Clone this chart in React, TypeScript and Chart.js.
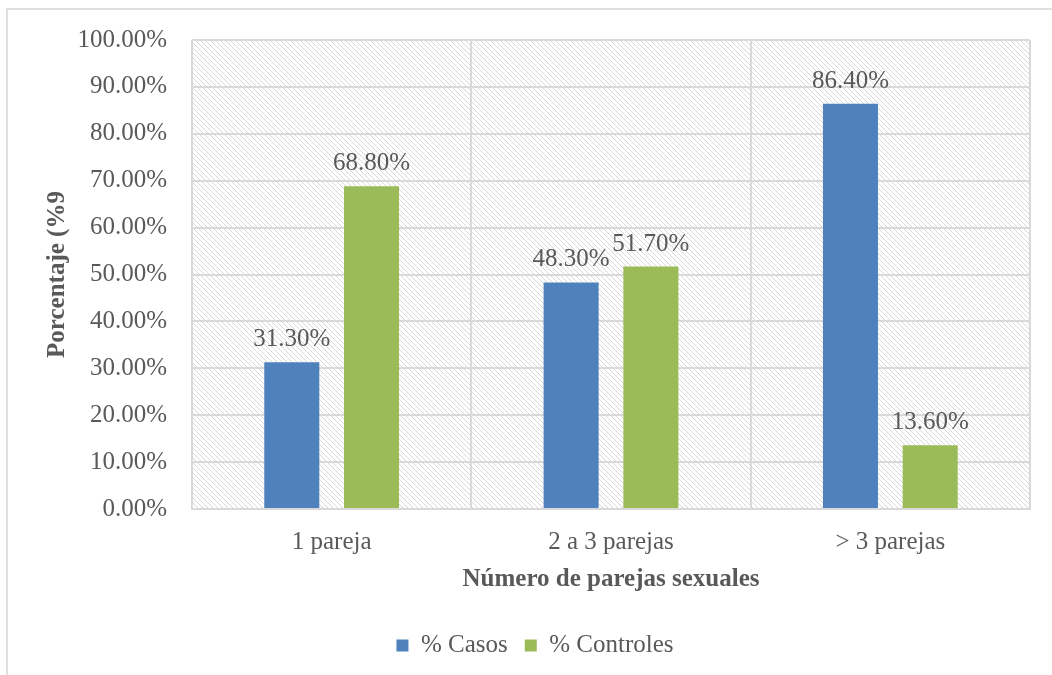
import React, { useEffect, useRef } from "react";
import { Chart, registerables } from "chart.js";

Chart.register(...registerables);

const categories = ["1 pareja", "2 a 3 parejas", "> 3 parejas"];
const casos = [31.3, 48.3, 86.4];
const controles = [68.8, 51.7, 13.6];
const seriesNames = ["% Casos", "% Controles"];
const yTickStep = 10;

const FONT = "'Liberation Serif', serif";
const TEXT = "#595959";
const GRID = "#d9d9d9";

function makePattern(): CanvasPattern | string {
  const c = document.createElement("canvas");
  c.width = 5;
  c.height = 5;
  const ctx = c.getContext("2d");
  if (!ctx) return "#fff";
  ctx.fillStyle = "#ffffff";
  ctx.fillRect(0, 0, 5, 5);
  ctx.fillStyle = "rgb(216,216,216)";
  for (let i = 0; i < 5; i++) ctx.fillRect(i, i, 1, 1);
  const p = ctx.createPattern(c, "repeat");
  return p || "#fff";
}

export default function App() {
  const ref = useRef<HTMLCanvasElement | null>(null);

  useEffect(() => {
    document.body.style.margin = "0";
    const canvas = ref.current;
    if (!canvas) return;
    const pattern = makePattern();
    Chart.defaults.font.family = FONT;
    Chart.defaults.color = TEXT;

    const hatch = {
      id: "hatch",
      beforeDraw(chart: any) {
        const { ctx, chartArea } = chart;
        ctx.save();
        ctx.fillStyle = pattern;
        ctx.fillRect(chartArea.left, chartArea.top, chartArea.right - chartArea.left, chartArea.bottom - chartArea.top);
        ctx.restore();
      },
    };

    const labels = {
      id: "valueLabels",
      afterDatasetsDraw(chart: any) {
        const { ctx } = chart;
        ctx.save();
        ctx.font = `25px ${FONT}`;
        ctx.fillStyle = TEXT;
        ctx.textAlign = "center";
        ctx.textBaseline = "alphabetic";
        chart.data.datasets.forEach((ds: any, di: number) => {
          const meta = chart.getDatasetMeta(di);
          meta.data.forEach((bar: any, i: number) => {
            ctx.fillText(ds.data[i].toFixed(2) + "%", bar.x, bar.y - 16);
          });
        });
        ctx.restore();
      },
    };

    const chart = new Chart(canvas, {
      type: "bar",
      data: {
        labels: categories,
        datasets: [
          { label: seriesNames[0], data: casos, backgroundColor: "#4f81bd" },
          { label: seriesNames[1], data: controles, backgroundColor: "#9bbb59" },
        ],
      },
      options: {
        animation: false,
        responsive: false,
        devicePixelRatio: 1,
        layout: { padding: { left: 40, right: 22, top: 38, bottom: 7 } },
        datasets: { bar: { categoryPercentage: 0.571, barPercentage: 0.69 } },
        plugins: {
          legend: {
            position: "bottom",
            labels: {
              boxWidth: 12,
              boxHeight: 12,
              padding: 17,
              color: TEXT,
              font: { family: FONT, size: 25 },
            },
          },
          tooltip: { enabled: false },
        },
        scales: {
          x: {
            grid: { color: GRID, lineWidth: 2, drawTicks: false, offset: true },
            border: { color: GRID, width: 2 },
            ticks: { color: TEXT, font: { family: FONT, size: 25 }, padding: 18 },
            title: {
              display: true,
              text: "Número de parejas sexuales",
              color: TEXT,
              font: { family: FONT, size: 25, weight: "bold" },
              padding: { top: -10, bottom: 21 },
            },
          },
          y: {
            min: 0,
            max: 100,
            grid: { color: GRID, lineWidth: 2, drawTicks: false },
            border: { display: false },
            ticks: {
              stepSize: yTickStep,
              color: TEXT,
              font: { family: FONT, size: 25 },
              padding: 25,
              callback: (v: any) => Number(v).toFixed(2) + "%",
            },
            title: {
              display: true,
              text: "Porcentaje (%9",
              color: TEXT,
              font: { family: FONT, size: 25, weight: "bold" },
              padding: { top: 3, bottom: 6 },
            },
            afterFit: (s: any) => {
              s.width = 152;
            },
          },
        },
      },
      plugins: [hatch, labels],
    });
    return () => chart.destroy();
  }, []);

  return (
    <div style={{ position: "relative", width: 1052, height: 675, background: "#fff" }}>
      <div
        style={{
          position: "absolute",
          left: 6,
          top: 8,
          width: 1046,
          height: 667,
          borderLeft: "2px solid #e0e0e0",
          borderTop: "2px solid #e0e0e0",
          boxSizing: "border-box",
        }}
      />
      <canvas ref={ref} width={1052} height={675} style={{ position: "absolute", left: 0, top: 0, display: "block" }} />
    </div>
  );
}
